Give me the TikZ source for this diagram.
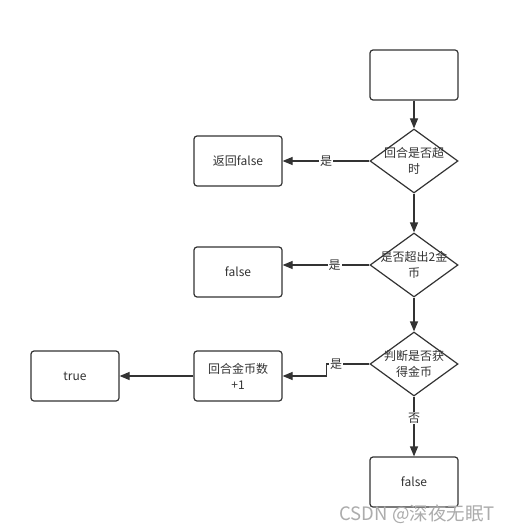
\documentclass[tikz,border=0pt]{standalone}
\usepackage{fontspec}
\setmainfont{Noto Sans CJK SC}
\usetikzlibrary{shapes.geometric,arrows.meta}
\definecolor{linegray}{HTML}{333333}

\begin{document}
\begin{tikzpicture}[x=1pt,y=-1pt]
  \tikzstyle{procbox}=[
       draw=linegray,
       line width=1.2pt,
       rounded corners=3pt,
       minimum width=88pt,
       minimum height=50pt,
       align=center,
       text=linegray,
       font=\fontsize{12}{16}\selectfont]
  \tikzstyle{decision}=[
       diamond,
       draw=linegray,
       line width=1.2pt,
       inner sep=0pt,
       minimum width=88pt,
       minimum height=64pt,
       label={[align=center,text=linegray,font=\fontsize{12}{16}\selectfont]center:#1}]
  \tikzstyle{flow}=[draw=linegray, line width=1.2pt, -{Triangle[length=10pt,width=8pt]}]
  \tikzstyle{edgetext}=[fill=white, inner sep=1pt, text=linegray, font=\fontsize{12}{14}\selectfont]

  \fill[white] (0,0) rectangle (510,532);

  % main column
  \node[procbox] (start) at (414,75) {};
  \node[decision={回合是否超\\时}] (timeout) at (414,161) {};
  \node[decision={是否超出2金\\币}] (over) at (414,265) {};
  \node[decision={判断是否获\\得金币}] (gain) at (414,364) {};
  \node[procbox] (endfalse) at (414,482) {false};

  % left side
  \node[procbox] (retfalse) at (238,161) {返回false};
  \node[procbox] (overfalse) at (238,272) {false};
  \node[procbox] (addcoin) at (238,376) {回合金币数\\+1};
  \node[procbox] (true) at (75,376) {true};

  \draw[flow] (start) -- (timeout);
  \draw[flow] (timeout) -- (over);
  \draw[flow] (over) -- (gain);
  \draw[flow] (gain) -- node[edgetext, pos=0.36] {否} (endfalse);

  \draw[flow] (timeout.west) -- node[edgetext] {是} (retfalse.east);
  \draw[flow] (over.west) -- node[edgetext, pos=0.4] {是} (over.west -| overfalse.east);
  \draw[flow] (gain.west) -- ([xshift=44pt]addcoin.east |- gain.west)
      node[edgetext, right=2pt] {是} |- (addcoin.east);
  \draw[flow] (addcoin) -- (true);

  \node[text=gray!65, font=\fontsize{18.5}{18.5}\selectfont] (mark) at (417,514) {CSDN @深夜无眠T};
\end{tikzpicture}
\end{document}
